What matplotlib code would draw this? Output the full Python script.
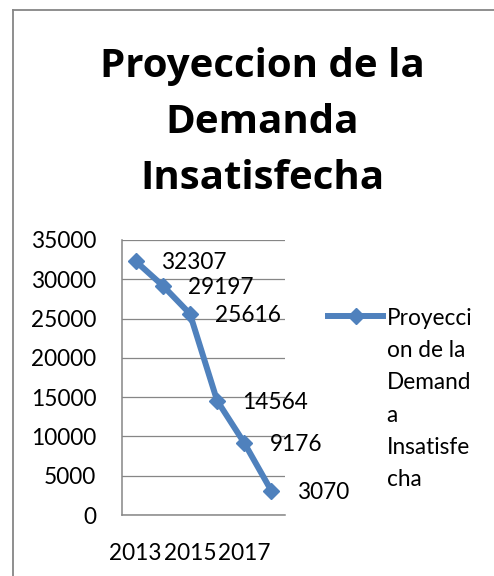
import matplotlib
matplotlib.use("Agg")
import matplotlib.pyplot as plt
from matplotlib.lines import Line2D

# ---- data ----
categories = ["2013", "2014", "2015", "2016", "2017", "2018"]
values = [32307, 29197, 25616, 14564, 9176, 3070]
series_name = "Proyeccion de la Demanda Insatisfecha"
title_lines = ["Proyeccion de la", "Demanda", "Insatisfecha"]
legend_lines = ["Proyecci", "on de la", "Demand", "a", "Insatisfe", "cha"]
y_ticks = [0, 5000, 10000, 15000, 20000, 25000, 30000, 35000]

W, H, DPI = 494, 576, 100
BLUE = "#4F81BD"
GRID = "#868686"
FONT = "Lato"
FS = 16.3

plt.rcParams["font.family"] = [FONT, "DejaVu Sans"]

fig = plt.figure(figsize=(W / DPI, H / DPI), dpi=DPI)
fig.patch.set_facecolor("white")

def fx(px):
    return px / W

def fy(py):
    return 1 - py / H

# chart frame (extends beyond the image on right and bottom)
fig.add_artist(Line2D([fx(13), fx(13)], [fy(10), fy(H + 5)], color=GRID, lw=1.3, transform=fig.transFigure))
fig.add_artist(Line2D([fx(13), fx(W + 5)], [fy(10), fy(10)], color=GRID, lw=1.3, transform=fig.transFigure))

# title
baselines = [77, 133, 189]
for line, b in zip(title_lines, baselines):
    fig.text(fx(262), fy(b), line, ha="center", va="baseline",
             fontsize=29, fontweight="bold", color="black",
             family=["Open Sans", "DejaVu Sans"])

# axes
left, right, top, bottom = 122, 285, 240, 515
ax = fig.add_axes([fx(left), fy(bottom), fx(right - left), (bottom - top) / H])
x = list(range(len(categories)))
ax.plot(x, values, color=BLUE, lw=4.3, marker="D", markersize=8.5,
        markerfacecolor=BLUE, markeredgecolor=BLUE, solid_joinstyle="round")
ax.set_xlim(-0.5, len(categories) - 0.5)
ax.set_ylim(0, 35000)
ax.set_yticks(y_ticks)
ax.set_yticklabels([str(v) for v in y_ticks])
ax.set_xticks(x[::2])
ax.set_xticklabels(categories[::2])
ax.tick_params(axis="both", length=0, labelsize=FS, colors="black")
ax.tick_params(axis="y", pad=18.5)
ax.tick_params(axis="x", pad=20)
ax.yaxis.grid(True, color=GRID, lw=0.9)
ax.set_axisbelow(True)
for s in ["top", "right"]:
    ax.spines[s].set_visible(False)
for s in ["left", "bottom"]:
    ax.spines[s].set_color(GRID)
    ax.spines[s].set_linewidth(1.1)

for xi, v in zip(x, values):
    ax.annotate(str(v), (xi, v), xytext=(18.3, -5.8), textcoords="offset points",
                ha="left", va="baseline", fontsize=FS, color="black",
                annotation_clip=False)

# legend (manual)
ly = 316
fig.add_artist(Line2D([fx(328), fx(383)], [fy(ly), fy(ly)], color=BLUE, lw=4.3,
                      transform=fig.transFigure))
fig.add_artist(Line2D([fx(355.5)], [fy(ly)], color=BLUE, marker="D", markersize=8.5,
                      transform=fig.transFigure))
for i, t in enumerate(legend_lines):
    fig.text(fx(386.5), fy(325 + 32.2 * i), t, ha="left", va="baseline",
             fontsize=FS, color="black")

fig.savefig("out.png", dpi=DPI)
